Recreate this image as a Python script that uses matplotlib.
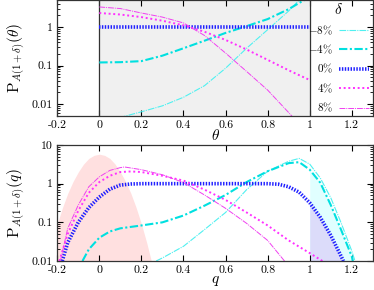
import matplotlib
matplotlib.use("Agg")
import matplotlib.pyplot as plt
import numpy as np

plt.rcParams["font.family"] = "serif"
plt.rcParams["font.serif"] = ["cmr10", "DejaVu Serif"]
plt.rcParams["mathtext.fontset"] = "cm"
plt.rcParams["axes.unicode_minus"] = False
plt.rcParams["axes.formatter.use_mathtext"] = True

# top panel: P vs theta
theta = [0.0, 0.1, 0.2, 0.3, 0.4, 0.5, 0.6, 0.7, 0.8, 0.9, 0.95, 1.0]
top_m8 = [0.0035, 0.0045, 0.0063, 0.009, 0.015, 0.03, 0.085, 0.28, 0.85, 2.6, 5.0, 9.0]
top_m4 = [0.12, 0.122, 0.13, 0.18, 0.28, 0.44, 0.7, 1.05, 1.6, 2.9, 4.2, 6.0]
top_0 = [1.0] * len(theta)
top_p4 = [2.3, 2.1, 1.8, 1.45, 1.1, 0.75, 0.46, 0.26, 0.14, 0.075, 0.056, 0.042]
top_p8 = [3.3, 3.0, 2.3, 1.8, 1.27, 0.6, 0.21, 0.07, 0.023, 0.006, 0.003, 0.0015]

# bottom panel: P vs q
q_pink = [-0.2, -0.175, -0.15, -0.125, -0.1, -0.075, -0.05, -0.025, 0.0,
          0.025, 0.05, 0.075, 0.1, 0.125, 0.15, 0.175, 0.2, 0.225, 0.25]
pink = [0.091, 0.24, 0.56, 1.13, 2.0, 3.2, 4.5, 5.4, 5.8,
        5.4, 4.5, 3.2, 2.0, 1.13, 0.56, 0.24, 0.091, 0.03, 0.0087]

q_m8 = [0.27, 0.3, 0.4, 0.5, 0.6, 0.7, 0.8, 0.9, 0.95, 1.0, 1.05, 1.1, 1.15, 1.2, 1.215]
bot_m8 = [0.01, 0.012, 0.024, 0.065, 0.18, 0.7, 2.1, 3.8, 4.5, 3.2, 1.4, 0.43, 0.094, 0.018, 0.01]

q_m4 = [-0.08, -0.05, 0.0, 0.05, 0.1, 0.2, 0.3, 0.4, 0.5, 0.6, 0.7, 0.8, 0.9,
        0.95, 1.0, 1.05, 1.1, 1.15, 1.2, 1.205]
bot_m4 = [0.01, 0.02, 0.04, 0.058, 0.07, 0.083, 0.1, 0.15, 0.27, 0.51, 1.1, 2.1, 3.4,
          3.6, 2.3, 1.06, 0.28, 0.062, 0.013, 0.01]

q_0 = [-0.176, -0.15, -0.1, -0.05, 0.0, 0.05, 0.1, 0.15, 0.2, 0.4, 0.6, 0.8, 0.85,
       0.9, 0.95, 1.0, 1.05, 1.1, 1.15, 1.16]
bot_0 = [0.01, 0.03, 0.1, 0.24, 0.45, 0.72, 0.92, 0.98, 1.0, 1.0, 1.0, 1.0, 0.97,
         0.83, 0.6, 0.32, 0.135, 0.046, 0.013, 0.01]

q_p4 = [-0.19, -0.15, -0.1, -0.05, 0.0, 0.05, 0.1, 0.15, 0.2, 0.3, 0.4, 0.5, 0.6,
        0.7, 0.8, 0.9, 1.0, 1.06]
bot_p4 = [0.01, 0.05, 0.2, 0.58, 1.1, 1.6, 2.0, 2.07, 2.0, 1.6, 1.2, 0.7, 0.38,
          0.18, 0.083, 0.034, 0.016, 0.01]

q_p8 = [-0.185, -0.15, -0.1, -0.05, 0.0, 0.05, 0.1, 0.12, 0.2, 0.3, 0.4, 0.5, 0.6,
        0.7, 0.8, 0.88]
bot_p8 = [0.01, 0.07, 0.28, 0.83, 1.5, 2.2, 2.6, 2.7, 2.3, 1.7, 1.07, 0.51, 0.23,
          0.094, 0.034, 0.01]

labels = [r"$-8\%$", r"$-4\%$", r"$0\%$", r"$4\%$", r"$8\%$"]
xticks = [-0.2, 0, 0.2, 0.4, 0.6, 0.8, 1, 1.2]
xticklabels = ["-0.2", "0", "0.2", "0.4", "0.6", "0.8", "1", "1.2"]

styles = [
    dict(color="#50f0f0", lw=0.8, dashes=(6, 1, 1, 1)),
    dict(color="#00e0e0", lw=1.5, dashes=(4, 1.2, 1, 1.2)),
    dict(color="#2020ff", lw=2.6, dashes=(0.4, 0.4)),
    dict(color="#ff30ff", lw=1.4, dashes=(1, 1.4)),
    dict(color="#f040f0", lw=0.7, dashes=(6, 1, 1, 1)),
]


def style_axis(ax, ylim, yticks, yticklabels):
    ax.set_yscale("log")
    ax.set_xlim(-0.2, 1.3)
    ax.set_ylim(*ylim)
    ax.set_xticks(xticks)
    ax.set_xticklabels(xticklabels)
    ax.set_yticks(yticks)
    ax.set_yticklabels(yticklabels)
    ax.tick_params(which="both", direction="in", top=True, right=True,
                   labelsize=8.5)
    ax.tick_params(which="major", length=4)
    ax.tick_params(which="minor", length=2)
    for s in ax.spines.values():
        s.set_linewidth(0.9)
        s.set_color("#333333")


fig = plt.figure(figsize=(3.74, 2.9), dpi=100)
ax1 = fig.add_axes([0.153, 0.6, 0.844, 0.4])
ax2 = fig.add_axes([0.153, 0.1, 0.844, 0.4])

# top
ax1.axvspan(0, 1, color="#f0f0f0", zorder=0)
ax1.axvline(0, color="#333333", lw=0.9)
ax1.axvline(1, color="#333333", lw=0.9)
for y, st, lab in zip([top_m8, top_m4, top_0, top_p4, top_p8], styles, labels):
    ax1.plot(theta, y, label=lab, **st)
style_axis(ax1, (0.0049, 5), [0.01, 0.1, 1], ["0.01", "0.1", "1"])
ax1.set_xlabel(r"$\theta$", fontsize=11, labelpad=-2)
ax1.set_ylabel(r"$\mathrm{P}_{A(1+\delta)}(\theta)$", fontsize=11, labelpad=2)
leg = ax1.legend(loc="upper right", bbox_to_anchor=(1.003, 1.02), frameon=False,
                 markerfirst=False, fontsize=8, handlelength=2.7,
                 handletextpad=0.55, labelspacing=0.55, title=r"$\delta$",
                 title_fontsize=11, borderaxespad=0.2, borderpad=0.2)
for t in leg.get_texts():
    t.set_ha("right")

# bottom
ax2.fill_between(q_pink, pink, 1e-3, color="#ffe0e0", lw=0, zorder=0)
m4_arr = np.array(bot_m4)
q4_arr = np.array(q_m4)
sel = q4_arr >= 1.0
ax2.fill_between(q4_arr[sel], m4_arr[sel], 1e-3, color="#e0ffff", lw=0, zorder=0)
q0_arr = np.array(q_0)
b0_arr = np.array(bot_0)
sel0 = q0_arr >= 1.0
ax2.fill_between(q0_arr[sel0], b0_arr[sel0], 1e-3, color="#dcdcfa", lw=0, zorder=0)
for qq, y, st in zip([q_m8, q_m4, q_0, q_p4, q_p8],
                     [bot_m8, bot_m4, bot_0, bot_p4, bot_p8], styles):
    ax2.plot(qq, y, **st)
style_axis(ax2, (0.01, 10), [0.01, 0.1, 1, 10], ["0.01", "0.1", "1", "10"])
ax2.set_xlabel(r"$q$", fontsize=11, labelpad=-1)
ax2.set_ylabel(r"$\mathrm{P}_{A(1+\delta)}(q)$", fontsize=11, labelpad=2)

fig.savefig("out.png", dpi=100)
